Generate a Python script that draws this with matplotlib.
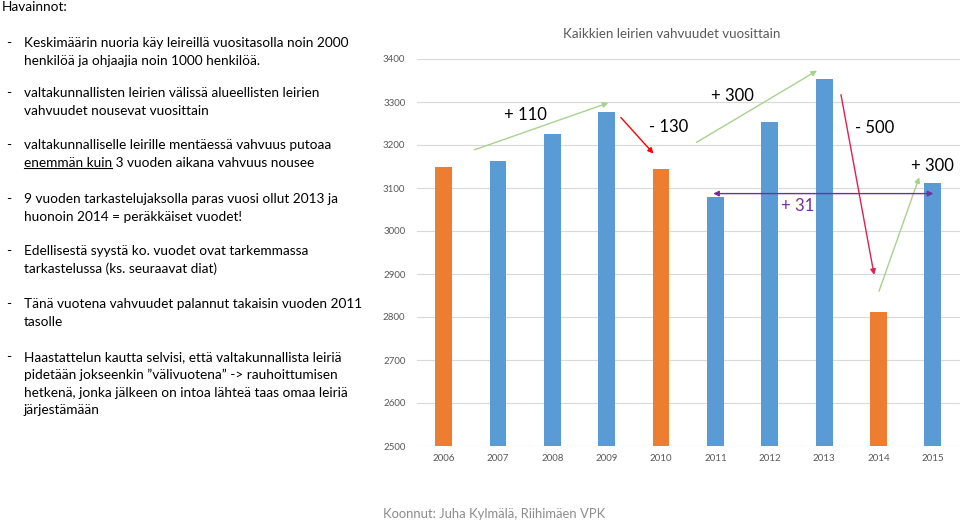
# Leirien vahvuudet vuosittain
# Pylväskaavio ja havainnot vasemmalla

import matplotlib.pyplot as plt

# Data
vuodet = [2006, 2007, 2008, 2009, 2010, 2011, 2012, 2013, 2014, 2015]
vahvuudet = [3150, 3162, 3225, 3277, 3144, 3080, 3253, 3353, 2811, 3112]
# Valtakunnallisen leirin vuodet (oranssi)
valtakunnalliset = [2006, 2010, 2014]

havainnot = [
    ["Keskimäärin nuoria käy leireillä vuositasolla noin 2000",
     "henkilöä ja ohjaajia noin 1000 henkilöä."],
    ["valtakunnallisten leirien välissä alueellisten leirien",
     "vahvuudet nousevat vuosittain"],
    ["valtakunnalliselle leirille mentäessä vahvuus putoaa",
     "enemmän kuin 3 vuoden aikana vahvuus nousee"],
    ["9 vuoden tarkastelujaksolla paras vuosi ollut 2013 ja",
     "huonoin 2014 = peräkkäiset vuodet!"],
    ["Edellisestä syystä ko. vuodet ovat tarkemmassa",
     "tarkastelussa (ks. seuraavat diat)"],
    ["Tänä vuotena vahvuudet palannut takaisin vuoden 2011",
     "tasolle"],
    ["Haastattelun kautta selvisi, että valtakunnallista leiriä",
     "pidetään jokseenkin ”välivuotena” -> rauhoittumisen",
     "hetkenä, jonka jälkeen on intoa lähteä taas omaa leiriä",
     "järjestämään"],
]
havainto_y = [43, 93, 145, 199, 251, 304, 357]

otsikko = "Kaikkien leirien vahvuudet vuosittain"
lahde = "Koonnut: Juha Kylmälä, Riihimäen VPK"

plt.rcParams["font.family"] = ["Lato", "DejaVu Sans"]

fig = plt.figure(figsize=(9.6, 5.21), dpi=100)
W, H = 960, 521
r = fig.canvas.get_renderer()


# Fonttikoko niin, että teksti on halutun levyinen (pikseleinä)
def sovita(teksti, leveys, koko=10):
    t = fig.text(0, 0, teksti, fontsize=koko)
    w = t.get_window_extent(renderer=r).width
    t.remove()
    return koko * leveys / w


koko = sovita(havainnot[0][0], 323)
otsikko_koko = sovita(otsikko, 217)
lahde_koko = 9.4
muutos_koko = 12

# Vasen tekstiosa
fig.text(2 / W, 1 - 7 / H, "Havainnot:", fontsize=koko, va="center", ha="left")
for rivit, y0 in zip(havainnot, havainto_y):
    fig.text(6 / W, 1 - y0 / H, "-", fontsize=koko, va="center", ha="left")
    for i, rivi in enumerate(rivit):
        fig.text(24 / W, 1 - (y0 + i * 17.8) / H, rivi, fontsize=koko,
                 va="center", ha="left")

# Alleviivaus "enemmän kuin"
t = [tx for tx in fig.texts if tx.get_text().startswith("enemmän kuin")][0]
osa = fig.text(24 / W, 0, "enemmän kuin", fontsize=koko, alpha=0)
bb = osa.get_window_extent(renderer=r)
tb = t.get_window_extent(renderer=r)
uy = tb.y0 + 1
fig.add_artist(plt.Line2D([bb.x0 / W, bb.x1 / W], [uy / H, uy / H],
                          color="black", lw=0.8))

# Kaavio
ax = fig.add_axes([416.5 / W, 1 - 446 / H, 1 - 416.5 / W, (446 - 59) / H])
x = list(range(len(vuodet)))
varit = ["#ED7D31" if v in valtakunnalliset else "#5B9BD5" for v in vuodet]
ax.bar(x, [v - 2500 for v in vahvuudet], bottom=2500, width=0.31,
       color=varit, zorder=2)
ax.set_xlim(-0.5, 9.5)
ax.set_ylim(2500, 3400)
ax.set_yticks(range(2500, 3401, 100))
ax.set_xticks(x)
ax.set_xticklabels([str(v) for v in vuodet])
ax.grid(axis="y", color="#D9D9D9", lw=0.8, zorder=0)
for s in ax.spines.values():
    s.set_visible(False)
ax.tick_params(length=0, labelsize=7, labelcolor="#595959", pad=6)
ax.tick_params(axis="y", pad=8)
fig.text(672 / W, 1 - 34 / H, otsikko,
         fontsize=otsikko_koko, color="#595959", ha="center", va="center")

# Nuolet ja muutokset
vihrea = "#A9D18E"


def nuoli(x0, y0, x1, y1, vari, tyyli="-|>"):
    ax.annotate("", xy=(x1, y1), xytext=(x0, y0),
                arrowprops=dict(arrowstyle=tyyli, color=vari, lw=1,
                                mutation_scale=8, shrinkA=0, shrinkB=0),
                zorder=3, annotation_clip=False)


nuoli(0.57, 3189, 3.03, 3298, vihrea)
nuoli(3.26, 3264, 3.86, 3180, "#FF0000")
nuoli(4.65, 3206, 6.87, 3373, vihrea)
nuoli(7.31, 3317, 7.92, 2898, "#E0204F")
nuoli(8.01, 2860, 8.75, 3125, vihrea)
nuoli(4.96, 3087, 9.01, 3087, "#7030A0", "<|-|>")

muutokset = [("+ 110", 1.51, 3270, "black"), ("- 130", 4.14, 3241, "black"),
             ("+ 300", 5.31, 3315, "black"), ("- 500", 7.93, 3239, "black"),
             ("+ 300", 9.0, 3152, "black"), ("+ 31", 6.51, 3057, "#7030A0")]
for teksti, tx_, ty_, vari in muutokset:
    ax.text(tx_, ty_, teksti, fontsize=muutos_koko, color=vari, ha="center",
            va="center", zorder=4)

fig.text(383 / W, 1 - 514 / H, lahde,
         fontsize=lahde_koko, color="#8C8C8C", ha="left", va="center")

fig.savefig("out.png", dpi=100)
